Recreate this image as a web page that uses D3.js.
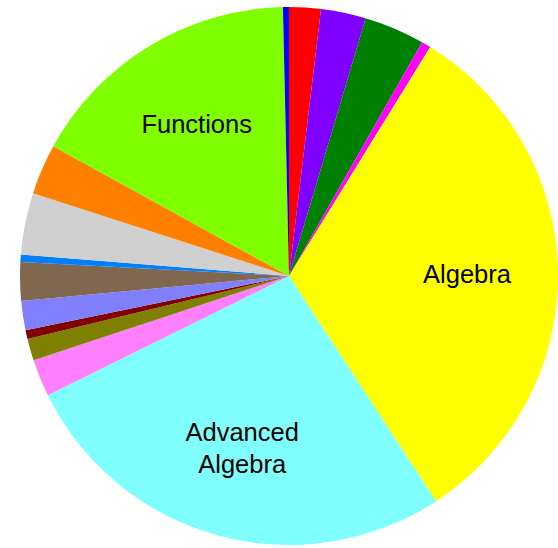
<!DOCTYPE html>
<html><head><meta charset="utf-8">
<script src="https://cdn.jsdelivr.net/npm/d3@7"></script>
<style>html,body{margin:0;padding:0;background:#fff;}svg{display:block;}</style>
</head><body>
<svg id="chart" width="558" height="548"></svg>
<script>
const categories = ["s1","s2","s3","s4","Algebra","Advanced Algebra","s7","s8","s9","s10","s11","s12","s13","s14","Functions","s16"];
const values = [1.9, 2.7, 3.64, 0.56, 32.0, 26.9, 2.25, 1.3, 0.53, 1.75, 2.32, 0.44, 3.7, 3.03, 16.64, 0.36];
const colors = ["#FF0000","#8000FF","#008000","#FF00FF","#FFFF00","#80FFFF","#FF80FF","#808000","#800000","#8080FF","#806850","#0080FF","#D0D0D0","#FF8000","#80FF00","#0000FF"];
const labels = ["","","","","Algebra","Advanced\nAlgebra","","","","","","","","","Functions",""];

const svg = d3.select("#chart");
const cx = 289, cy = 276, R = 269;
const g = svg.append("g").attr("transform", `translate(${cx},${cy})`);
const pie = d3.pie().sort(null).value(d => d)(values);
const arc = d3.arc().innerRadius(0).outerRadius(R);
g.selectAll("path").data(pie).join("path")
  .attr("d", arc).attr("fill", (d,i) => colors[i]);
const labelArc = d3.arc().innerRadius(178).outerRadius(178);
pie.forEach((d,i) => {
  if (!labels[i]) return;
  const [x,y] = labelArc.centroid(d);
  const lines = labels[i].split("\n");
  const lh = 32;
  const t = g.append("text").attr("x", x).attr("y", y)
    .attr("text-anchor","middle")
    .attr("font-family","Liberation Sans, Arial, sans-serif")
    .attr("font-size", 25.5).attr("fill","#000");
  lines.forEach((ln,k) => {
    t.append("tspan").attr("x", x)
     .attr("y", y + 9.2 + (k - (lines.length-1)/2) * lh)
     .text(ln);
  });
});
</script>
</body></html>
